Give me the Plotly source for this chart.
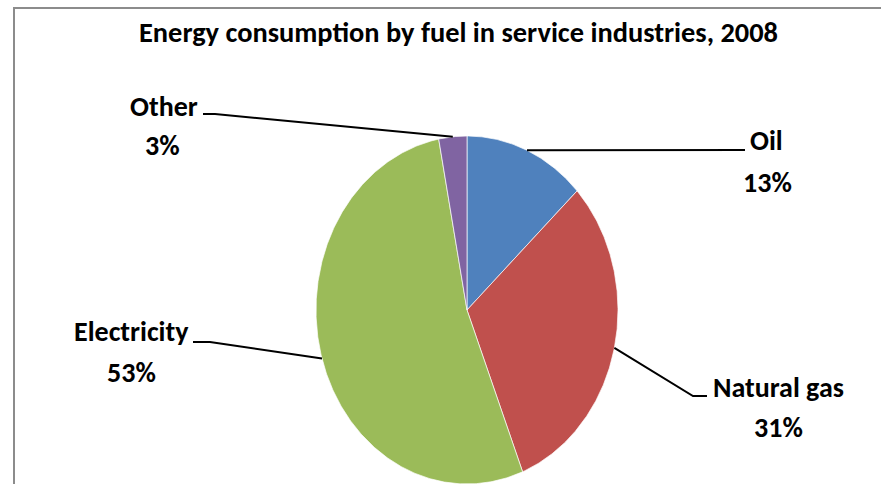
import numpy as np
import plotly.graph_objects as go

# Fuel shares (%) in service industries, 2008
fuels = ["Oil", "Natural gas", "Electricity", "Other"]
shares = [13, 31, 53, 3]
colors = ["#4F81BD", "#C0504D", "#9BBB59", "#8064A2"]
title_text = "Energy consumption by fuel in service industries, 2008"

# Canvas and pie geometry (pixels)
W, H = 881, 484
CX, CY = 467, 310        # pie centre
RX, RY = 151, 174        # horizontal / vertical radius (oval pie)

FONT = "Carlito, Calibri, Roboto Condensed, sans-serif"
LABEL_SIZE = 28
TITLE_SIZE = 28.4

# Label placement (pixel positions): name centre, percent centre, leader elbow, leader end
label_layout = {
    "Oil":         dict(name=(766, 140), pct=(767, 182), elbow=(745, 150), end=(745, 150)),
    "Natural gas": dict(name=(778, 387), pct=(778, 427), elbow=(693, 396), end=(707, 396)),
    "Electricity": dict(name=(131, 331), pct=(131, 372), elbow=(210, 342), end=(193, 342)),
    "Other":       dict(name=(164, 106), pct=(162, 145), elbow=(215, 114), end=(203, 114)),
}


def px2x(px):
    return (px - CX) / RX


def px2y(py):
    return (CY - py) / RY


fig = go.Figure()

# Slices: angles measured clockwise from 12 o'clock, in units of the radius
total = float(sum(shares))
fractions = np.array(shares) / total
starts = np.concatenate([[0.0], np.cumsum(fractions)[:-1]])
for fuel, frac, start, col in zip(fuels, fractions, starts, colors):
    n = max(int(frac * 720), 4)
    theta = 2 * np.pi * np.linspace(start, start + frac, n)
    xs = np.concatenate([[0.0], np.sin(theta), [0.0]])
    ys = np.concatenate([[0.0], np.cos(theta), [0.0]])
    fig.add_trace(go.Scatter(
        x=xs, y=ys, mode="lines", fill="toself", fillcolor=col,
        line=dict(color="rgba(255,255,255,0.85)", width=0.8),
        hoverinfo="text", hovertext=f"{fuel}: {frac*100:.0f}%",
        showlegend=False,
    ))

# Leader lines from slice mid-points to labels, plus the labels themselves
for fuel, frac, start in zip(fuels, fractions, starts):
    mid = 2 * np.pi * (start + frac / 2)
    lay = label_layout[fuel]
    xs = [np.sin(mid), px2x(lay["elbow"][0]), px2x(lay["end"][0])]
    ys = [np.cos(mid), px2y(lay["elbow"][1]), px2y(lay["end"][1])]
    fig.add_trace(go.Scatter(
        x=xs, y=ys, mode="lines", line=dict(color="black", width=2),
        hoverinfo="skip", showlegend=False,
    ))
    fig.add_annotation(
        x=px2x(lay["name"][0]), y=px2y(lay["name"][1]), text=f"<b>{fuel}</b>",
        showarrow=False, xanchor="center", yanchor="middle",
        font=dict(family=FONT, size=LABEL_SIZE, color="black"),
    )
    fig.add_annotation(
        x=px2x(lay["pct"][0]), y=px2y(lay["pct"][1]), text=f"<b>{frac*100:.0f}%</b>",
        showarrow=False, xanchor="center", yanchor="middle",
        font=dict(family=FONT, size=LABEL_SIZE, color="black"),
    )

# Title
fig.add_annotation(
    x=459 / W, y=1 - 33 / H, xref="paper", yref="paper",
    text=f"<b>{title_text}</b>", showarrow=False,
    xanchor="center", yanchor="middle",
    font=dict(family=FONT, size=TITLE_SIZE, color="black"),
)

# Chart-area frame
fig.add_shape(
    type="rect", xref="paper", yref="paper",
    x0=14 / W, x1=1.02, y0=-0.02, y1=1 - 8 / H,
    line=dict(color="#8c8c8c", width=2), fillcolor="rgba(0,0,0,0)", layer="below",
)

fig.update_layout(
    width=W, height=H,
    margin=dict(l=0, r=0, t=0, b=0),
    paper_bgcolor="white", plot_bgcolor="white",
    xaxis=dict(range=[px2x(0), px2x(W)], visible=False, fixedrange=True),
    yaxis=dict(range=[px2y(H), px2y(0)], visible=False, fixedrange=True),
)

fig.write_html("out.html")
